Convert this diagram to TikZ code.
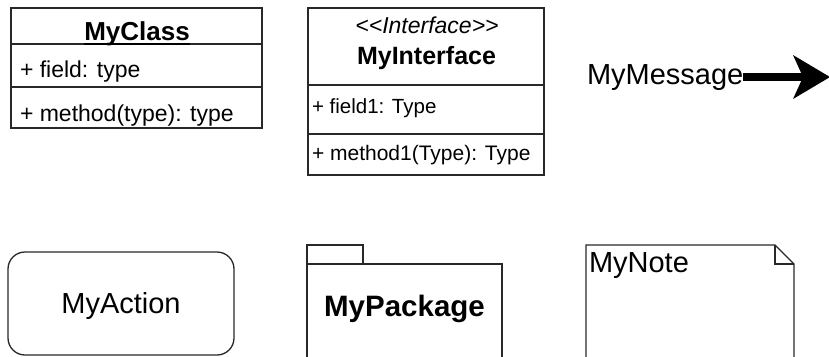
\documentclass[tikz,border=0pt]{standalone}
\usepackage{fontspec}
\setmainfont{Liberation Sans}
\usetikzlibrary{arrows.meta}
\definecolor{linec}{RGB}{40,40,40}
\newcommand{\fs}[1]{\fontsize{#1}{#1}\selectfont}
\begin{document}
\begin{tikzpicture}[x=1pt,y=-1pt,
  outl/.style={draw=linec, line width=1.3pt},
  txt/.style={inner sep=0pt, outer sep=0pt, text=black}]
\useasboundingbox (0,0) rectangle (829,356);
\clip (0,0) rectangle (829,356);
% MyClass
\draw[outl] (11,8) rectangle (262,128);
\draw[outl] (11,44) -- (262,44) (11,87) -- (262,87);
\node[txt, anchor=base] (cls) at (137,40.5) {\fs{26}\bfseries MyClass};
\draw[line width=1.5pt] ([yshift=-3.5pt]cls.base west) -- ([yshift=-3.5pt]cls.base east);
\node[txt, anchor=base west] (clsf) at (20,77.5) {\fs{23}+ field: type};
\node[txt, anchor=base west] (clsm) at (20,121.5) {\fs{23}+ method(type): type};
% MyInterface
\draw[outl] (308,8) rectangle (544,175);
\draw[outl] (308,85) -- (544,85) (308,134) -- (544,134);
\node[txt, anchor=base] (ster) at (427,33) {\fs{23}\itshape <\kern0pt<Interface>\kern0pt>};
\node[txt, anchor=base] (ifc) at (426.5,64) {\fs{25}\bfseries MyInterface};
\node[txt, anchor=base west] (ifcf) at (312,113) {\fs{20.5}+ field1: Type};
\node[txt, anchor=base west] (ifcm) at (312,160) {\fs{21}+ method1(Type): Type};
% MyMessage
\node[txt, anchor=base west] (msg) at (587,84) {\fs{29}MyMessage};
\coordinate (tipc) at (830,77);
\draw[line width=8pt, -{Stealth[length=37pt, width=44pt, inset=10pt, line width=0pt]}] (msg.east) -- (msg.east -| tipc);
% MyAction
\draw[outl, rounded corners=17pt] (8,252) rectangle (234,355);
\node[txt, anchor=base] (act) at (121,313) {\fs{29}MyAction};
% MyPackage
\draw[outl] (307,245) rectangle (363,264);
\draw[outl] (307,362) -- (307,264) -- (502,264) -- (502,362);
\node[txt, anchor=base] (pkg) at (404.5,316) {\fs{29.5}\bfseries MyPackage};
% MyNote
\draw[outl] (586,362) -- (586,245) -- (775,245) -- (794,264) -- (794,362);
\draw[outl] (775,245) -- (775,264) -- (794,264);
\node[txt, anchor=base west] (note) at (589,272) {\fs{29}MyNote};
\end{tikzpicture}
\end{document}
